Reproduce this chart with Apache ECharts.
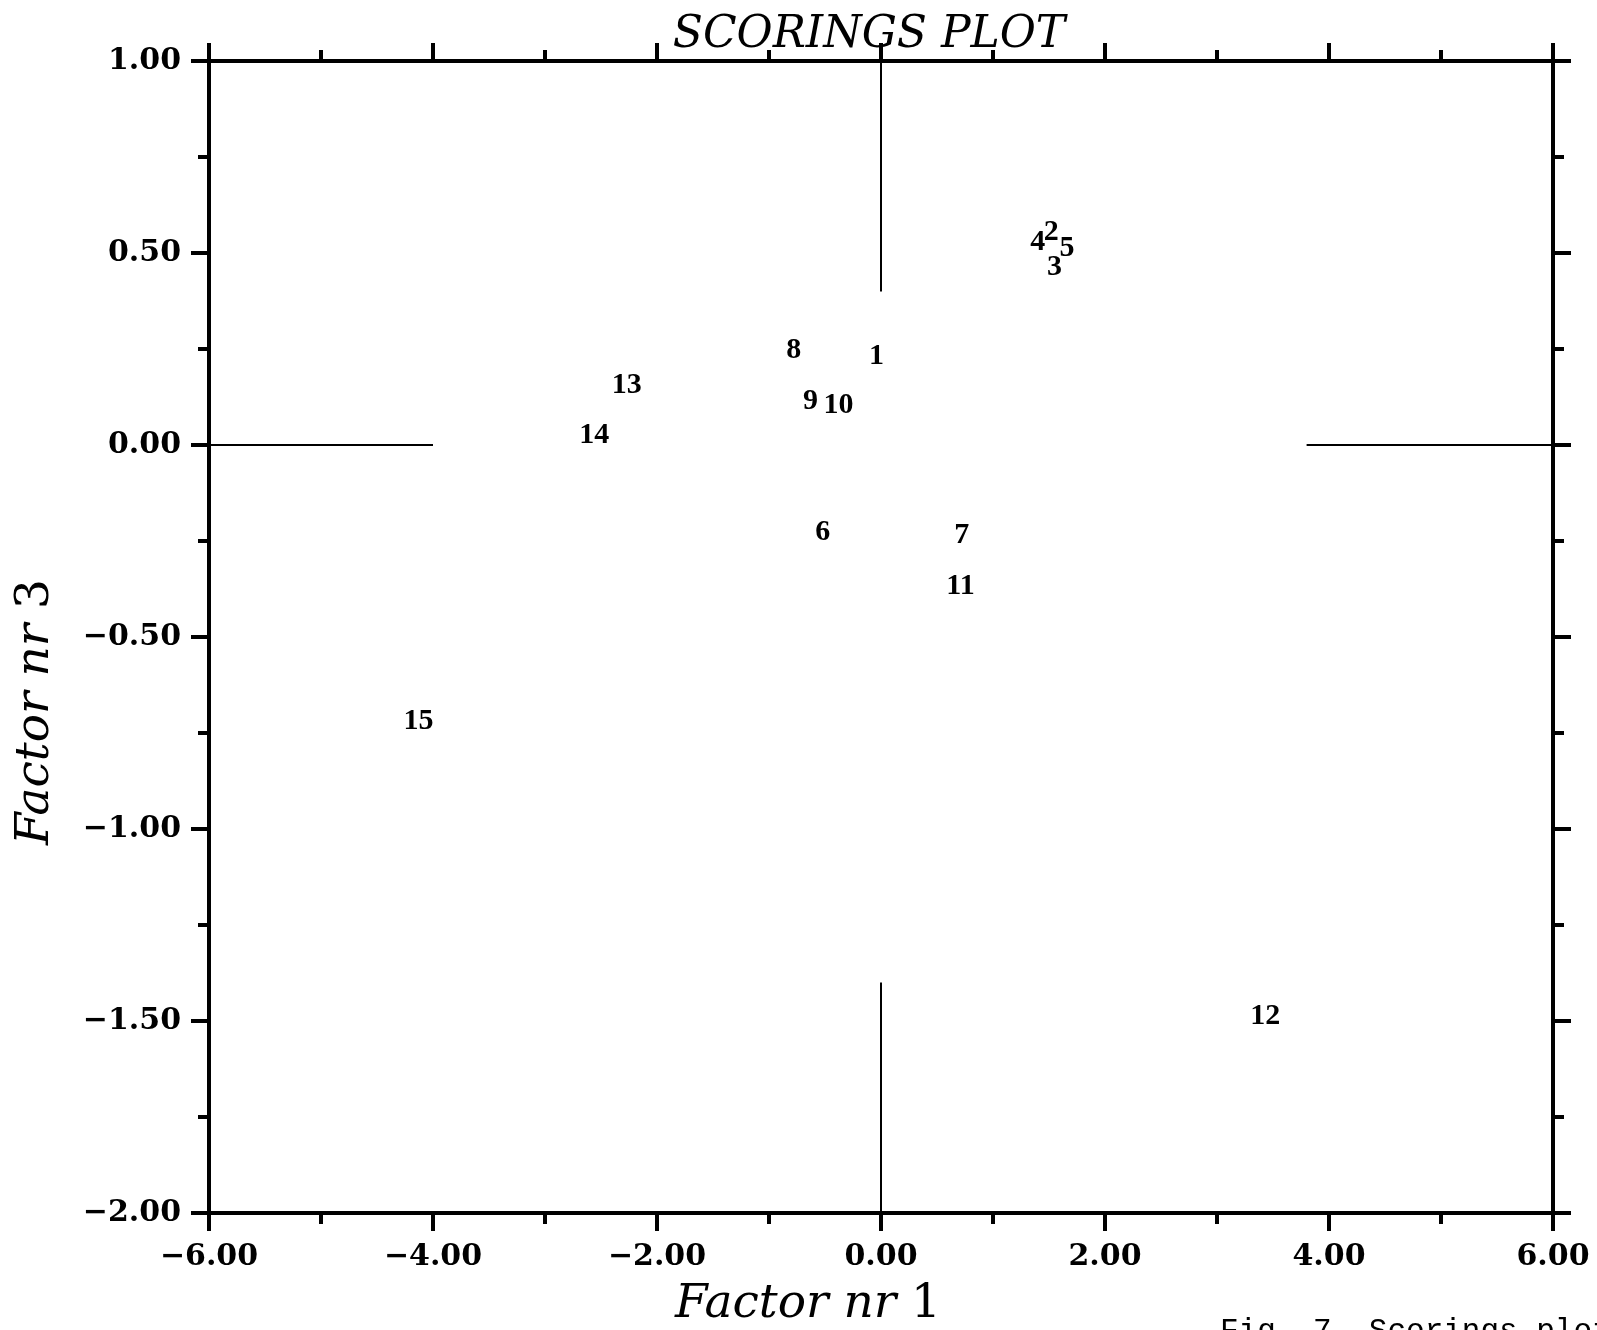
<!DOCTYPE html>
<html>
<head>
<meta charset="utf-8">
<title>Scorings plot</title>
<script src="https://cdn.jsdelivr.net/npm/echarts@6/dist/echarts.min.js"></script>
<style>
  html, body { margin: 0; padding: 0; background: #fff; }
  #chart { width: 1597px; height: 1330px; }
</style>
</head>
<body>
<div id="chart"></div>
<script>
// Sample numbers and their scores on factor 1 (x) and factor 3 (y)
const sampleIds = ['1', '2', '3', '4', '5', '6', '7', '8', '9', '10', '11', '12', '13', '14', '15'];
const factor1 = [-0.04, 1.52, 1.55, 1.40, 1.66, -0.52, 0.72, -0.78, -0.63, -0.38, 0.71, 3.43, -2.27, -2.56, -4.13];
const factor3 = [0.23, 0.555, 0.464, 0.529, 0.512, -0.228, -0.236, 0.247, 0.113, 0.104, -0.369, -1.488, 0.156, 0.026, -0.719];

// Labelled tick values
const xTickValues = [-6, -4, -2, 0, 2, 4, 6];
const xTickLabels = ['\u22126.00', '\u22124.00', '\u22122.00', '0.00', '2.00', '4.00', '6.00'];
const yTickValues = [1, 0.5, 0, -0.5, -1, -1.5, -2];
const yTickLabels = ['1.00', '0.50', '0.00', '\u22120.50', '\u22121.00', '\u22121.50', '\u22122.00'];

// Broken cross-hair through the origin
const crossUp = [[0, 1], [0, 0.4]];
const crossDown = [[0, -1.4], [0, -2]];
const crossLeft = [[-6, 0], [-4, 0]];
const crossRight = [[3.8, 0], [6, 0]];

const INK = '#000';
const tickFont = { fontFamily: 'DejaVu Serif', fontWeight: 'bold', fontSize: 30, color: INK };

function lookup(values, labels, v) {
  const i = values.findIndex(t => Math.abs(t - v) < 1e-9);
  return i < 0 ? '' : labels[i];
}

function frameAxis(extra) {
  return Object.assign({
    type: 'value',
    axisLine: { show: true, onZero: false, lineStyle: { color: INK, width: 4 } },
    axisTick: { show: true, inside: false, length: 18, lineStyle: { color: INK, width: 4 } },
    minorTick: { show: true, splitNumber: 2, length: 11, lineStyle: { color: INK, width: 4 } },
    splitLine: { show: false },
    minorSplitLine: { show: false }
  }, extra);
}

const chart = echarts.init(document.getElementById('chart'), null, { renderer: 'canvas' });

const segStyle = { color: INK, width: 2 };
function segment(data) {
  return {
    type: 'line', data: data, symbol: 'none', silent: true,
    lineStyle: segStyle, xAxisIndex: 0, yAxisIndex: 0, z: 1
  };
}

const titleRich = {
  i: { fontFamily: 'DejaVu Serif', fontStyle: 'italic', fontSize: 47, fill: INK },
  n: { fontFamily: 'DejaVu Serif', fontSize: 47, fill: INK }
};

chart.setOption({
  backgroundColor: '#fff',
  animation: false,
  grid: { left: 209, right: 44, top: 61, bottom: 117, containLabel: false },
  xAxis: [
    frameAxis({
      position: 'bottom', min: -6, max: 6, interval: 2,
      axisLabel: Object.assign({ margin: 29, formatter: v => lookup(xTickValues, xTickLabels, v) }, tickFont)
    }),
    frameAxis({
      position: 'top', min: -6, max: 6, interval: 2,
      axisLabel: { show: false }
    })
  ],
  yAxis: [
    frameAxis({
      position: 'left', min: -2, max: 1, interval: 0.5,
      axisLabel: Object.assign({ margin: 28, padding: [10, 0, 0, 0], formatter: v => lookup(yTickValues, yTickLabels, v) }, tickFont)
    }),
    frameAxis({
      position: 'right', min: -2, max: 1, interval: 0.5,
      axisLabel: { show: false }
    })
  ],
  series: [
    segment(crossUp),
    segment(crossDown),
    segment(crossLeft),
    segment(crossRight),
    {
      type: 'scatter',
      symbolSize: 1,
      itemStyle: { color: 'rgba(0,0,0,0)', opacity: 1 },
      data: sampleIds.map((id, i) => ({ name: id, value: [factor1[i], factor3[i]] })),
      label: {
        show: true,
        position: 'inside',
        formatter: p => p.name,
        fontFamily: '"Liberation Serif", serif',
        fontWeight: 'bold',
        fontSize: 30,
        color: INK,
        opacity: 1,
        textBorderWidth: 0,
        align: 'center',
        verticalAlign: 'middle'
      },
      z: 3
    }
  ],
  graphic: [
    {
      type: 'text', z: 10,
      x: 869, y: 36,
      style: {
        text: 'SCORINGS PLOT',
        align: 'center', verticalAlign: 'middle',
        fontFamily: 'DejaVu Serif', fontStyle: 'italic', fontSize: 44, fill: INK
      }
    },
    {
      type: 'text', z: 10,
      x: 808, y: 1305,
      style: {
        text: '{i|Factor nr }{n|1}',
        align: 'center', verticalAlign: 'middle',
        rich: titleRich
      }
    },
    {
      type: 'text', z: 10,
      x: 36, y: 712, rotation: Math.PI / 2,
      style: {
        text: '{i|Factor nr }{n|3}',
        align: 'center', verticalAlign: 'middle',
        rich: titleRich
      }
    },
    {
      type: 'text', z: 10,
      x: 1220, y: 1316,
      style: {
        text: 'Fig. 7. Scorings plot',
        align: 'left', verticalAlign: 'top',
        fontFamily: '"Liberation Mono", "DejaVu Sans Mono", monospace', fontSize: 31, fill: INK
      }
    }
  ]
});
</script>
</body>
</html>
